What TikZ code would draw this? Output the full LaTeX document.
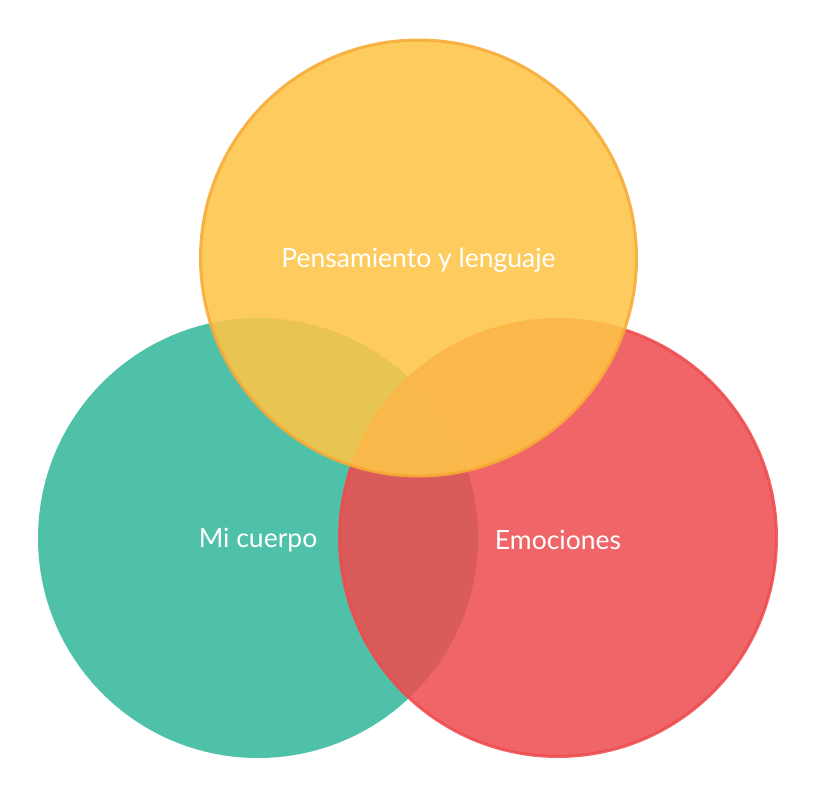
\documentclass[tikz,border=0pt]{standalone}
\usepackage{fontspec}
\setmainfont{Lato}
\definecolor{cgreen}{HTML}{4FC1A9}
\definecolor{cred}{HTML}{EE4E50}
\definecolor{credline}{HTML}{EE4B4D}
\definecolor{cyellow}{HTML}{FEC548}
\definecolor{cyellowline}{HTML}{F7AB35}
\tikzset{
  setcircle/.style={circle, inner sep=0pt, line width=3pt},
  lbl/.style={text=white, font=\fontsize{26.5}{30}\selectfont, yshift=-2pt}
}
\begin{document}
\begin{tikzpicture}[x=1pt,y=-1pt]
\useasboundingbox (0,0) rectangle (818,798);
\node[setcircle, fill=cgreen, minimum size=440pt] (body) at (258,538) {};
\node[setcircle, fill=cred, draw=credline, opacity=0.87, minimum size=437pt] (emo) at (558,538) {};
\node[setcircle, fill=cyellow, draw=cyellowline, opacity=0.88, minimum size=436pt] (think) at (418.5,258) {};
\node[lbl] (tbody) at (body.center) {Mi cuerpo};
\node[lbl] (temo) at (emo.center) {Emociones};
\node[lbl] (tthink) at (think.center) {Pensamiento y lenguaje};
\end{tikzpicture}
\end{document}
